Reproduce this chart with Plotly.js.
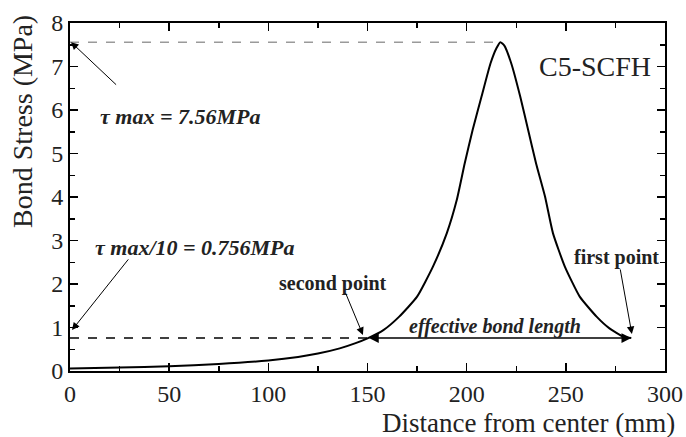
<!DOCTYPE html>
<html>
<head>
<meta charset="utf-8">
<script src="https://cdn.plot.ly/plotly-3.0.1.min.js"></script>
<style>html,body{margin:0;padding:0;background:#fff;}#chart{width:686px;height:437px;}</style>
</head>
<body>
<div id="chart"></div>
<script>
// Data
const distanceMm = [0, 25, 50, 75, 100, 115, 125, 136, 144, 150, 158, 166, 175, 183, 190, 195, 199, 203, 207.5, 212, 215, 217, 219, 222.5, 227, 231, 235, 239.5, 243.5, 249.5, 257, 265.5, 272, 279, 283];
const bondStressMPa = [0.06, 0.08, 0.11, 0.16, 0.24, 0.32, 0.40, 0.52, 0.64, 0.75, 0.94, 1.25, 1.71, 2.40, 3.17, 3.93, 4.77, 5.54, 6.31, 7.07, 7.42, 7.56, 7.48, 7.07, 6.31, 5.54, 4.77, 4.01, 3.17, 2.40, 1.71, 1.25, 0.98, 0.79, 0.756];
const tauMax = 7.56;
const tauMaxPeakX = 217;
const tauMaxTenth = 0.756;
const secondPointX = 150;
const firstPointX = 283;
const xTicks = [0, 50, 100, 150, 200, 250, 300];
const yTicks = [0, 1, 2, 3, 4, 5, 6, 7, 8];

const serif = 'Liberation Serif, Times New Roman, serif';

const traces = [
  {x: [0, tauMaxPeakX], y: [tauMax, tauMax], mode: 'lines', line: {color: '#9a9a9a', width: 1.5, dash: 'dash'}, hoverinfo: 'skip'},
  {x: [0, secondPointX], y: [tauMaxTenth, tauMaxTenth], mode: 'lines', line: {color: '#000', width: 1.5, dash: 'dash'}, hoverinfo: 'skip'},
  {x: distanceMm, y: bondStressMPa, mode: 'lines', line: {color: '#000', width: 2, shape: 'spline', smoothing: 0.5}}
];

function arrow(x, y, ax, ay, extra) {
  return Object.assign({x: x, y: y, ax: ax, ay: ay, xref: 'x', yref: 'y', axref: 'x', ayref: 'y', text: '', showarrow: true, arrowhead: 2, arrowsize: 1.5, arrowwidth: 1, arrowcolor: '#000'}, extra || {});
}
function label(x, y, text, font, extra) {
  return Object.assign({x: x, y: y, xref: 'x', yref: 'y', text: text, showarrow: false, font: font}, extra || {});
}
const biFont = {family: serif, size: 22, color: '#222', weight: 'bold', style: 'italic'};
const bFont = {family: serif, size: 20, color: '#222', weight: 'bold'};

const annotations = [
  label(55.5, 5.84, 'τ max = 7.56MPa', biFont),
  arrow(0.5, tauMax, 24, 6.55),
  label(62.8, 2.85, 'τ max/10 = 0.756MPa', biFont),
  arrow(1, 0.94, 30, 2.6),
  label(132.6, 2.02, 'second point', bFont),
  arrow(147.7, 0.83, 138.7, 1.82),
  label(275.3, 2.6, 'first point', bFont),
  arrow(283.3, 0.85, 277.3, 2.37),
  arrow(firstPointX, tauMaxTenth, secondPointX, tauMaxTenth, {arrowside: 'end+start', arrowwidth: 1.5, arrowsize: 1.3}),
  label(214.3, 1.02, 'effective bond length', {family: serif, size: 20, color: '#222', weight: 'bold', style: 'italic'}),
  label(294, 6.99, 'C5-SCFH', {family: serif, size: 28, color: '#222'}, {xanchor: 'right'}),
  {x: 0.77, y: -0.148, xref: 'paper', yref: 'paper', text: 'Distance from center (mm)', showarrow: false, font: {family: serif, size: 27, color: '#222'}, xanchor: 'center', yanchor: 'middle'},
  {x: -0.081, y: 0.718, xref: 'paper', yref: 'paper', text: 'Bond Stress (MPa)', textangle: -90, showarrow: false, font: {family: serif, size: 28, color: '#222'}, xanchor: 'center', yanchor: 'middle'}
];

const axisCommon = {
  showline: true, linecolor: '#000', linewidth: 2, mirror: 'ticks',
  ticks: 'inside', ticklen: 8, tickwidth: 1.5, tickcolor: '#000',
  showgrid: false, zeroline: false,
  tickfont: {family: serif, size: 24, color: '#222'}
};

const layout = {
  width: 686, height: 437,
  margin: {l: 70, r: 21, t: 23, b: 66},
  paper_bgcolor: '#fff', plot_bgcolor: '#fff',
  showlegend: false,
  xaxis: Object.assign({}, axisCommon, {range: [0, 300], tickvals: xTicks, ticktext: xTicks.map(String), minor: {ticks: 'inside', ticklen: 5, tickwidth: 1.5, tickcolor: '#000', dtick: 25, tick0: 0}}),
  yaxis: Object.assign({}, axisCommon, {range: [0, 8], tickvals: yTicks, ticktext: yTicks.map(String), ticklabelstandoff: 0, minor: {ticks: 'inside', ticklen: 5, tickwidth: 1.5, tickcolor: '#000', dtick: 0.5, tick0: 0}}),
  annotations: annotations
};

Plotly.newPlot('chart', traces, layout, {displayModeBar: false, staticPlot: true});
</script>
</body>
</html>
